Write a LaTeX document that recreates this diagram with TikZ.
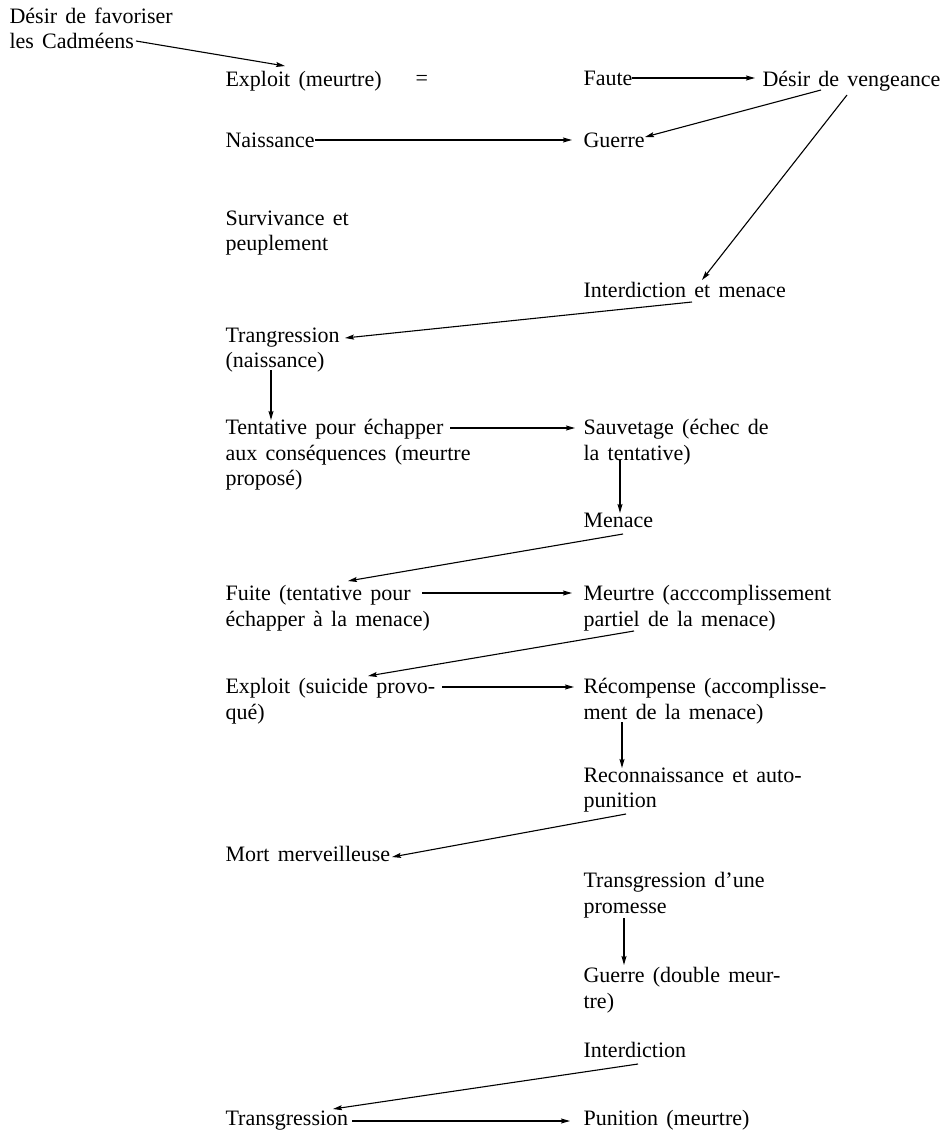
\documentclass[tikz,border=0pt]{standalone}
\usepackage{fontspec}
\setmainfont[WordSpace=1.5]{Liberation Serif}
\usetikzlibrary{arrows.meta}

\begin{document}
\begin{tikzpicture}[x=1pt, y=-1pt, line width=1.1pt,
    >={Stealth[length=9pt, width=5pt, inset=1.5pt]},
    font=\fontsize{22}{25.5}\selectfont]

    \tikzset{lbl/.style={%
      anchor=north west,%
      inner sep=0pt,%
      align=left}%
    };

    \useasboundingbox (0, 0) rectangle (945, 1130);

    %%%%%%%%%%%%%%%
    %   top       %
    %%%%%%%%%%%%%%%
    \path (9, 7) node [lbl] (fav) {Désir de favoriser\\les Cadméens};
    \path (225, 71) node [lbl] (expl) {Exploit (meurtre)};
    \path (415, 80) node [anchor=west, inner sep=0pt] (eq) {=};
    \path (583, 71) node [lbl] (faute) {Faute};
    \path (762, 71) node [lbl] (vgc) {Désir de vengeance};
    \path (225, 132) node [lbl] (nais) {Naissance};
    \path (583, 132) node [lbl] (guerre) {Guerre};
    \path (225, 210) node [lbl] (surv) {Survivance et\\peuplement};
    \path (583, 282) node [lbl] (inter) {Interdiction et menace};

    %%%%%%%%%%%%%%%
    %   middle    %
    %%%%%%%%%%%%%%%
    \path (225, 327) node [lbl] (trans) {Trangression\\(naissance)};
    \path (225, 419) node [lbl] (tent) {Tentative pour échapper\\aux conséquences (meurtre\\proposé)};
    \path (583, 419) node [lbl] (sauv) {Sauvetage (échec de\\la tentative)};
    \path (583, 513) node [lbl] (men) {Menace};
    \path (225, 585) node [lbl] (fuite) {Fuite (tentative pour\\échapper à la menace)};
    \path (583, 585) node [lbl] (meur) {Meurtre (acccomplissement\\partiel de la menace)};
    \path (225, 678) node [lbl] (expl2) {Exploit (suicide provo-\\qué)};
    \path (583, 678) node [lbl] (recomp) {Récompense (accomplisse-\\ment de la menace)};
    \path (583, 767) node [lbl] (recon) {Reconnaissance et auto-\\punition};
    \path (225, 846) node [lbl] (mort) {Mort merveilleuse};

    %%%%%%%%%%%%%%%
    %   bottom    %
    %%%%%%%%%%%%%%%
    \path (583, 872) node [lbl] (tprom) {Transgression d’une\\promesse};
    \path (583, 967) node [lbl] (gdm) {Guerre (double meur-\\tre)};
    \path (583, 1042) node [lbl] (inter2) {Interdiction};
    \path (225, 1110) node [lbl] (trans2) {Transgression};
    \path (583, 1110) node [lbl] (pun) {Punition (meurtre)};

    \draw [->] ([shift={(127,34)}]fav.north west) -- ([shift={(60,-5)}]expl.north west);
    \draw [->] ([shift={(49,7)}]faute.north west) -- ([shift={(-7,7)}]vgc.north west);
    \draw [->] ([shift={(90,8)}]nais.north west) -- ([shift={(-11,8)}]guerre.north west);
    \draw [->] ([shift={(59,19)}]vgc.north west) -- ([shift={(62,5)}]guerre.north west);
    \draw [->] ([shift={(85,24)}]vgc.north west) -- ([shift={(119,-2)}]inter.north west);
    \draw [->] ([shift={(109,20)}]inter.north west) -- ([shift={(120,11)}]trans.north west);
    \draw [->] ([shift={(46,43)}]trans.north west) -- ([shift={(46,1)}]tent.north west);
    \draw [->] ([shift={(225,9)}]tent.north west) -- ([shift={(-8,9)}]sauv.north west);
    \draw [->] ([shift={(37,41)}]sauv.north west) -- ([shift={(37,0)}]men.north west);
    \draw [->] ([shift={(40,21)}]men.north west) -- ([shift={(123,-4)}]fuite.north west);
    \draw [->] ([shift={(197,8)}]fuite.north west) -- ([shift={(-11,8)}]meur.north west);
    \draw [->] ([shift={(51,46)}]meur.north west) -- ([shift={(143,-2)}]expl2.north west);
    \draw [->] ([shift={(217,9)}]expl2.north west) -- ([shift={(-9,9)}]recomp.north west);
    \draw [->] ([shift={(39,44)}]recomp.north west) -- ([shift={(39,1)}]recon.north west);
    \draw [->] ([shift={(43,47)}]recon.north west) -- ([shift={(167,11)}]mort.north west);
    \draw [->] ([shift={(41,46)}]tprom.north west) -- ([shift={(41,-2)}]gdm.north west);
    \draw [->] ([shift={(55,22)}]inter2.north west) -- ([shift={(108,-1)}]trans2.north west);
    \draw [->] ([shift={(127,11)}]trans2.north west) -- ([shift={(-13,11)}]pun.north west);

  \end{tikzpicture}
\end{document}
